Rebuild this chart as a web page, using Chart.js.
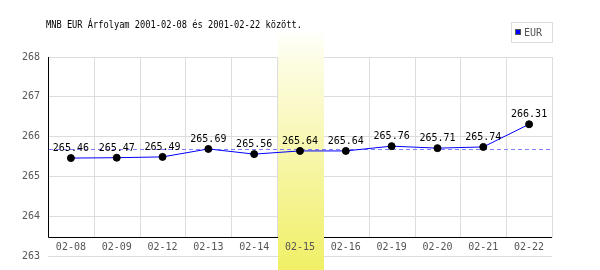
<!DOCTYPE html>
<html>
<head>
<meta charset="utf-8">
<script src="https://cdn.jsdelivr.net/npm/chart.js@4/dist/chart.umd.min.js"></script>
<style>
html,body{margin:0;padding:0;background:#ffffff;}
canvas{display:block;}
</style>
</head>
<body>
<canvas id="c" width="600" height="270"></canvas>
<script>
// ---- data ----
const categories = ['02-08','02-09','02-12','02-13','02-14','02-15','02-16','02-19','02-20','02-21','02-22'];
const eurValues = [265.46,265.47,265.49,265.69,265.56,265.64,265.64,265.76,265.71,265.74,266.31];
const yTicks = [263,264,265,266,267,268];
const averageValue = 265.68;
const highlightCategory = '02-15';
const seriesLabel = 'EUR';
const titleText = 'MNB EUR Árfolyam 2001-02-08 és 2001-02-22 között.';
const xAxisAtValue = 263.47;

const FONT = '"DejaVu Sans Mono", "Liberation Mono", monospace';

const decorPlugin = {
  id: 'decor',
  beforeDatasetsDraw(chart) {
    const {ctx, chartArea, scales} = chart;
    const x = scales.x, y = scales.y;
    const n = categories.length;
    const w = x.width / n;
    const axisY = Math.round(y.getPixelForValue(xAxisAtValue)) + 0.5;
    ctx.save();
    // vertical grid lines
    ctx.strokeStyle = '#dddddd';
    ctx.lineWidth = 1;
    for (let k = 1; k <= n; k++) {
      const px = Math.round(x.left + k * w) + 0.5;
      ctx.beginPath();
      ctx.moveTo(px, chartArea.top);
      ctx.lineTo(px, axisY);
      ctx.stroke();
    }
    // axes
    ctx.strokeStyle = '#000000';
    ctx.beginPath();
    ctx.moveTo(Math.round(chartArea.left) + 0.5, chartArea.top);
    ctx.lineTo(Math.round(chartArea.left) + 0.5, axisY);
    ctx.lineTo(chartArea.right, axisY);
    ctx.stroke();
    // highlight band
    const hi = categories.indexOf(highlightCategory);
    if (hi >= 0) {
      const bx0 = Math.round(x.left + hi * w) + 1;
      const bx1 = Math.round(x.left + (hi + 1) * w) + 1;
      const top = 29, bottom = chart.height;
      const g = ctx.createLinearGradient(0, top, 0, bottom);
      g.addColorStop(0, '#ffffff');
      g.addColorStop(0.12, '#fdfde6');
      g.addColorStop(1, '#f0ef66');
      ctx.fillStyle = g;
      ctx.fillRect(bx0, top, bx1 - bx0, bottom - top);
    }
    // average dashed line
    const ay = Math.round(y.getPixelForValue(averageValue)) + 0.5;
    ctx.strokeStyle = '#8080ff';
    ctx.setLineDash([4, 3]);
    ctx.beginPath();
    ctx.moveTo(chartArea.left + 1, ay);
    ctx.lineTo(chartArea.right, ay);
    ctx.stroke();
    ctx.setLineDash([]);
    // category labels (through the x scale)
    ctx.fillStyle = '#555555';
    ctx.font = '10px ' + FONT;
    ctx.textAlign = 'center';
    ctx.textBaseline = 'middle';
    categories.forEach((c, i) => {
      ctx.fillText(c, x.getPixelForValue(i), axisY + 10);
    });
    ctx.restore();
  },
  afterDatasetsDraw(chart) {
    const {ctx} = chart;
    const meta = chart.getDatasetMeta(0);
    ctx.save();
    ctx.fillStyle = '#000000';
    ctx.font = '10px ' + FONT;
    ctx.textAlign = 'center';
    ctx.textBaseline = 'alphabetic';
    meta.data.forEach((pt, i) => {
      ctx.fillText(eurValues[i].toFixed(2), pt.x, pt.y - 7);
    });
    ctx.restore();
  },
  afterDraw(chart) {
    const {ctx} = chart;
    ctx.save();
    // title
    ctx.fillStyle = '#000000';
    ctx.font = '10px ' + FONT;
    ctx.textAlign = 'left';
    ctx.textBaseline = 'alphabetic';
    const tw = ctx.measureText(titleText).width;
    const sx = 256 / tw;
    ctx.translate(46, 28);
    ctx.scale(sx, 1);
    ctx.fillText(titleText, 0, 0);
    ctx.restore();
    // legend
    ctx.save();
    ctx.strokeStyle = '#dddddd';
    ctx.lineWidth = 1;
    ctx.strokeRect(511.5, 22.5, 41, 20);
    ctx.fillStyle = '#0000ff';
    ctx.fillRect(515, 29, 6, 6);
    ctx.strokeStyle = '#555555';
    ctx.strokeRect(515.5, 29.5, 5, 5);
    ctx.fillStyle = '#555555';
    ctx.font = '10px ' + FONT;
    ctx.textBaseline = 'middle';
    ctx.textAlign = 'left';
    ctx.fillText(seriesLabel, 524, 33);
    ctx.restore();
  }
};

new Chart(document.getElementById('c'), {
  type: 'line',
  data: {
    labels: categories,
    datasets: [{
      label: seriesLabel,
      data: eurValues,
      borderColor: '#0000ff',
      borderWidth: 1,
      tension: 0,
      fill: false,
      pointRadius: 3.5,
      pointBorderWidth: 1,
      pointBackgroundColor: '#000000',
      pointBorderColor: '#000000'
    }]
  },
  options: {
    responsive: false,
    animation: false,
    devicePixelRatio: 1,
    layout: { padding: { left: 0, right: 48, top: 57, bottom: 13 } },
    plugins: {
      legend: { display: false },
      title: { display: false },
      tooltip: { enabled: false }
    },
    scales: {
      x: {
        type: 'category',
        position: { y: xAxisAtValue },
        offset: true,
        grid: { display: false, drawTicks: false },
        border: { display: false },
        ticks: { display: false, autoSkip: false }
      },
      y: {
        min: 263,
        max: 268,
        afterBuildTicks(scale) { scale.ticks = yTicks.map(v => ({ value: v })); },
        afterFit(scale) { scale.width = 48; },
        grid: { color: '#dddddd', lineWidth: 1, drawTicks: false },
        border: { display: false },
        ticks: {
          color: '#555555',
          font: { family: FONT, size: 10 },
          padding: 8
        }
      }
    }
  },
  plugins: [decorPlugin]
});
</script>
</body>
</html>
